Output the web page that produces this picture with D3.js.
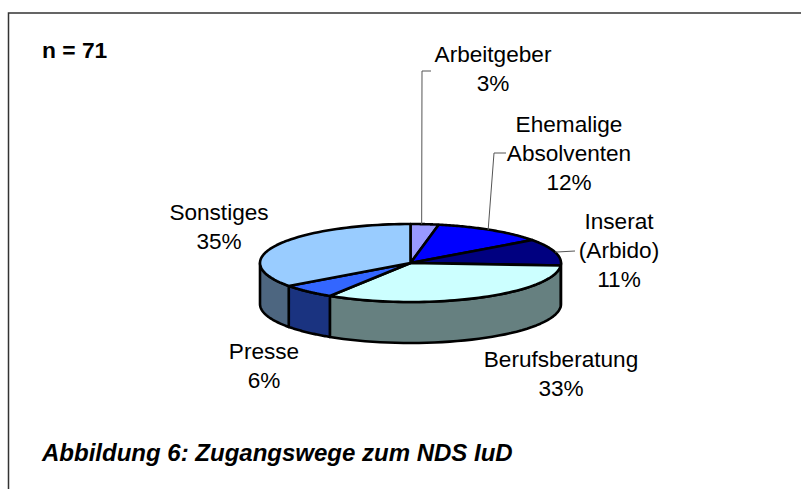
<!DOCTYPE html>
<html>
<head>
<meta charset="utf-8">
<script src="https://cdn.jsdelivr.net/npm/d3@7"></script>
<style>
  html, body { margin: 0; padding: 0; background: #fff; }
  text { font-family: "Liberation Sans", Arial, sans-serif; fill: #000; }
</style>
</head>
<body>
<div id="canvas"></div>
<script>
  const categories = ['Arbeitgeber', 'Ehemalige Absolventen', 'Inserat (Arbido)', 'Berufsberatung', 'Presse', 'Sonstiges'];
  const shares = [3, 12, 11, 33, 6, 35];
  const colors = ['#9999ff', '#0000ff', '#000080', '#ccffff', '#3366ff', '#99ccff'];
  const labelLines = [['Arbeitgeber'], ['Ehemalige', 'Absolventen'], ['Inserat', '(Arbido)'], ['Berufsberatung'], ['Presse'], ['Sonstiges']];

  const width = 801;
  const height = 489;
  const centerX = 410.5;
  const centerY = 263;
  const radiusX = 150.5;
  const radiusY = 39;
  const depth = 41;

  const svg = d3.select('#canvas')
    .append('svg')
    .attr('width', width)
    .attr('height', height)
    .style('display', 'block');

  // frame is open on the right and at the bottom
  svg.append('path')
    .attr('d', 'M8.5,489V13H801')
    .attr('fill', 'none')
    .attr('stroke', '#333')
    .attr('stroke-width', 1.5);

  const rows = categories.map((name, i) => ({ name, share: shares[i], color: colors[i], lines: labelLines[i] }));
  const slices = d3.pie().sort(null).value(d => d.share)(rows);

  const ellipseX = d3.scaleLinear().domain([-1, 1]).range([centerX - radiusX, centerX + radiusX]);
  const ellipseY = d3.scaleLinear().domain([-1, 1]).range([centerY - radiusY, centerY + radiusY]);
  const rimPoint = (angle, drop) => [ellipseX(Math.sin(angle)), ellipseY(-Math.cos(angle)) + drop];

  const darker = (c) => {
    const rgb = d3.rgb(c);
    return d3.rgb(rgb.r / 2, rgb.g / 2, rgb.b / 2).formatHex();
  };

  const line = d3.line();

  // side walls, only the part that faces the viewer (90deg to 270deg)
  const wallPath = (d) => {
    const from = Math.max(d.startAngle, Math.PI / 2);
    const to = Math.min(d.endAngle, Math.PI * 1.5);
    if (to <= from) return null;
    const steps = d3.range(0, 41).map(k => from + (to - from) * k / 40);
    const top = steps.map(a => rimPoint(a, 0));
    const bottom = steps.slice().reverse().map(a => rimPoint(a, depth));
    return line(top.concat(bottom)) + 'Z';
  };

  const topPath = (d) => {
    const steps = d3.range(0, 61).map(k => d.startAngle + (d.endAngle - d.startAngle) * k / 60);
    return line([[centerX, centerY]].concat(steps.map(a => rimPoint(a, 0)))) + 'Z';
  };

  svg.append('g')
    .selectAll('path')
    .data(slices.filter(d => wallPath(d) !== null))
    .enter()
    .append('path')
    .attr('d', wallPath)
    .attr('fill', d => darker(d.data.color))
    .attr('stroke', '#000')
    .attr('stroke-width', 2.6)
    .attr('stroke-linejoin', 'round');

  svg.append('g')
    .selectAll('path')
    .data(slices)
    .enter()
    .append('path')
    .attr('d', topPath)
    .attr('fill', d => d.data.color)
    .attr('stroke', '#000')
    .attr('stroke-width', 2.6)
    .attr('stroke-linejoin', 'round');

  // leader lines: start comes from the slice middle, nudged a little left on the first two
  const leaderBends = {
    'Arbeitgeber': { nudge: -3, bends: [[422, 71], [431, 71]] },
    'Ehemalige Absolventen': { nudge: -3, bends: [[494, 153], [506, 153]] },
    'Inserat (Arbido)': { nudge: 0, bends: [[575, 251]] },
  };
  slices.filter(d => leaderBends[d.data.name]).forEach(d => {
    const leader = leaderBends[d.data.name];
    const mid = rimPoint((d.startAngle + d.endAngle) / 2, 0);
    svg.append('path')
      .attr('d', line([[mid[0] + leader.nudge, mid[1]]].concat(leader.bends)))
      .attr('fill', 'none')
      .attr('stroke', '#555')
      .attr('stroke-width', 1);
  });

  // label block: centre x and first baseline
  const labelPos = [[493, 62], [569, 132], [619, 229], [561, 367], [264, 359], [219, 220]];
  const lineStep = 29;
  slices.forEach((d, i) => {
    const texts = d.data.lines.concat([d.data.share + '%']);
    svg.append('text')
      .attr('text-anchor', 'middle')
      .style('font-size', '22.6px')
      .selectAll('tspan')
      .data(texts)
      .enter()
      .append('tspan')
      .attr('x', labelPos[i][0])
      .attr('y', (t, k) => labelPos[i][1] + k * lineStep)
      .text(t => t);
  });

  svg.append('text')
    .attr('x', 42)
    .attr('y', 58)
    .style('font-size', '22.8px')
    .style('font-weight', 'bold')
    .text('n = 71');

  svg.append('text')
    .attr('x', 42)
    .attr('y', 461)
    .style('font-size', '24px')
    .style('font-weight', 'bold')
    .style('font-style', 'italic')
    .text('Abbildung 6: Zugangswege zum NDS IuD');
</script>
</body>
</html>
